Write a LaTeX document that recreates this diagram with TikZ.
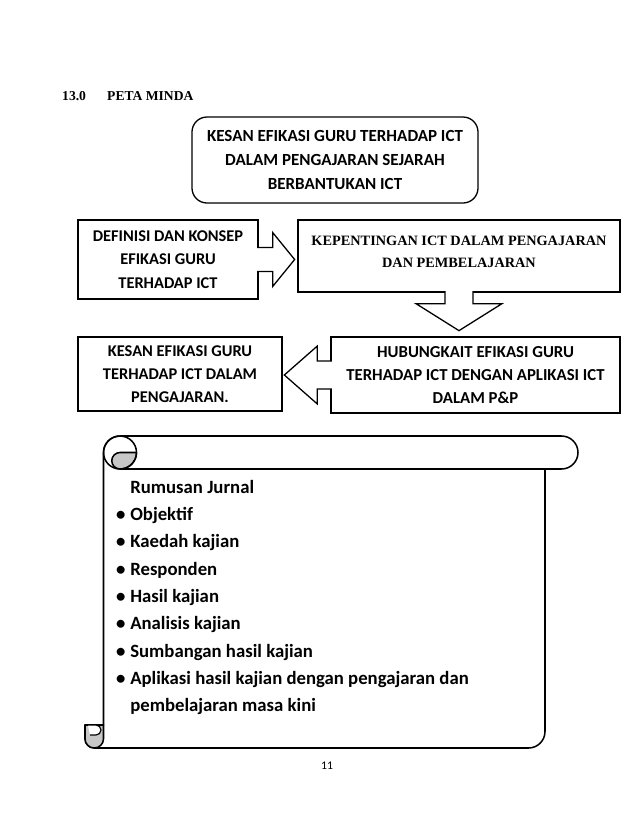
\documentclass[tikz,border=0pt]{standalone}
\usepackage{fontspec}
\setmainfont{Carlito}
\newfontfamily\timesfont{Liberation Serif}
\usetikzlibrary{calc}

\begin{document}
\begin{tikzpicture}[x=0.03cm, y=-0.03cm,
  kotak/.style={draw, line width=1.1pt, fill=white, inner sep=0pt, align=center,
    font=\bfseries\fontsize{14}{19.8}\selectfont},
  anak panah/.style={draw, fill=white, line width=1.1pt, line join=miter},
  gulung/.style={draw, line width=1.3pt, line join=round},
  kelabu/.style={gulung, fill=black!22}]
  \useasboundingbox (0,0) rectangle (638,826);

  % tajuk
  \node (nombor) at (62,100) [anchor=base west, inner sep=0pt, font=\timesfont\bfseries\fontsize{11.6}{13}\selectfont] {13.0};
  \node (tajuk) at (107,100) [anchor=base west, inner sep=0pt, font=\timesfont\bfseries\fontsize{11.6}{13}\selectfont] {PETA MINDA};

  % kotak-kotak peta minda
  \node (kesan) at (335,160) [kotak, rounded corners=0.45cm, minimum width=8.58cm, minimum height=2.58cm, font=\bfseries\fontsize{14.5}{20.5}\selectfont] {KESAN EFIKASI GURU TERHADAP ICT\\DALAM PENGAJARAN SEJARAH\\BERBANTUKAN ICT};
  \node (definisi) at (168,259.5) [kotak, minimum width=5.4cm, minimum height=2.37cm] {DEFINISI DAN KONSEP\\EFIKASI GURU\\TERHADAP ICT};
  \node (kepentingan) at (459,256) [kotak, minimum width=9.66cm, minimum height=2.16cm] {};
  \node (kepteks) at (459,252) [align=center, inner sep=0pt, font=\timesfont\bfseries\fontsize{12.2}{18.8}\selectfont] {KEPENTINGAN ICT DALAM PENGAJARAN\\DAN PEMBELAJARAN};
  \node (pengajaran) at (180,374) [kotak, minimum width=6.12cm, minimum height=2.22cm] {KESAN EFIKASI GURU\\TERHADAP ICT DALAM\\PENGAJARAN.};
  \node (hubungkait) at (475.5,375) [kotak, minimum width=8.67cm, minimum height=2.28cm, font=\bfseries\fontsize{14.3}{19.8}\selectfont] {HUBUNGKAIT EFIKASI GURU\\TERHADAP ICT DENGAN APLIKASI ICT\\DALAM P\&P};

  % anak panah blok
  \path[anak panah] ($(definisi.east)+(-1.5,-12)$) -- ++(15.5,0) -- ++(0,-15) -- ++(22,27) -- ++(-22,27) -- ++(0,-15) -- ++(-15.5,0);
  \path[anak panah] ($(kepentingan.south)+(-14,-1.5)$) -- ++(0,12.5) -- ++(-29,0) -- ++(43,27) -- ++(43,-27) -- ++(-29,0) -- ++(0,-12.5);
  \path[anak panah] ($(hubungkait.west)+(1.5,-14)$) -- ++(-14.5,0) -- ++(0,-15) -- ++(-33,29) -- ++(33,29) -- ++(0,-15) -- ++(14.5,0);

  % gulungan
  \path[gulung, fill=white] (103.5,452.5) arc[start angle=180, end angle=270, radius=16.5]
    -- (561.5,436) arc[start angle=270, end angle=450, radius=16.5]
    -- (545,469) -- (545,731.5) arc[start angle=0, end angle=90, radius=16.5]
    -- (94.25,748) arc[start angle=90, end angle=180, radius=9.25]
    -- (85,725) -- (103.5,725) -- cycle;
  \path[kelabu] (85,725) -- (103.5,725) -- (103.5,738.75) arc[start angle=0, end angle=180, radius=9.25] -- cycle;
  \path[gulung, line width=1pt, fill=white] (88,725) -- (96,725) arc[start angle=270, end angle=450, radius=5] -- (90,735);
  \path[kelabu] (120,469) arc[start angle=90, end angle=270, radius=8.25] -- (136.5,452.5) arc[start angle=0, end angle=90, radius=16.5] -- cycle;
  \draw[gulung] (120,452.5) circle[radius=16.5];
  \draw[gulung] (120,469) -- (545,469);

  % isi gulungan
  \node (rumusan) at (116,480) [anchor=north west, inner sep=0pt, align=left, font=\bfseries\fontsize{16}{23.3}\selectfont]
    {\hspace*{12pt}Rumusan Jurnal\\
     \makebox[12pt][l]{\textbullet}Objektif\\
     \makebox[12pt][l]{\textbullet}Kaedah kajian\\
     \makebox[12pt][l]{\textbullet}Responden\\
     \makebox[12pt][l]{\textbullet}Hasil kajian\\
     \makebox[12pt][l]{\textbullet}Analisis kajian\\
     \makebox[12pt][l]{\textbullet}Sumbangan hasil kajian\\
     \makebox[12pt][l]{\textbullet}Aplikasi hasil kajian dengan pengajaran dan\\
     \hspace*{12pt}pembelajaran masa kini};

  % nombor halaman
  \node (halaman) at (327,766) [font=\fontsize{10}{12}\selectfont] {11};
\end{tikzpicture}
\end{document}
